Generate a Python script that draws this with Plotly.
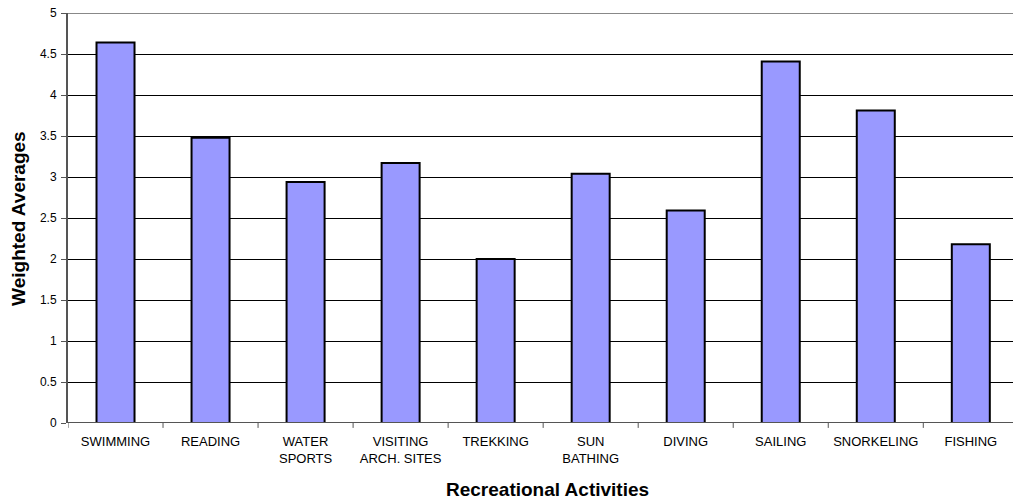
import plotly.graph_objects as go

# Recreational activities and their weighted average ratings
activities = ["SWIMMING", "READING", "WATER<br>SPORTS", "VISITING<br>ARCH. SITES", "TREKKING",
              "SUN<br>BATHING", "DIVING", "SAILING", "SNORKELING", "FISHING"]
weighted_averages = [4.64, 3.48, 2.94, 3.17, 2.00, 3.04, 2.59, 4.41, 3.81, 2.18]
y_ticks = [0, 0.5, 1, 1.5, 2, 2.5, 3, 3.5, 4, 4.5, 5]
y_tick_text = ["0", "0.5", "1", "1.5", "2", "2.5", "3", "3.5", "4", "4.5", "5"]

font_family = "Liberation Sans, Arial, sans-serif"

fig = go.Figure()
fig.add_trace(go.Bar(
    x=list(range(len(activities))),
    y=weighted_averages,
    width=0.4,
    marker=dict(color="#9999FF", line=dict(color="#000000", width=2)),
    hoverinfo="y",
))

fig.update_layout(
    width=1013, height=503,
    margin=dict(l=68, r=0, t=13, b=80),
    paper_bgcolor="white", plot_bgcolor="white",
    showlegend=False,
    font=dict(family=font_family, color="#000000", size=12),
    xaxis=dict(
        range=[-0.5, 9.444],
        tickmode="array",
        tickvals=list(range(len(activities))),
        ticktext=activities,
        tickfont=dict(size=13),
        showgrid=False,
        zeroline=False,
        showline=False,
        ticks="",
        ticklabelstandoff=9,
    ),
    yaxis=dict(
        range=[0, 5],
        tickmode="array",
        tickvals=y_ticks,
        ticktext=y_tick_text,
        tickfont=dict(size=12),
        showgrid=True,
        gridcolor="#000000",
        gridwidth=1,
        zeroline=False,
        showline=True,
        linecolor="#555555",
        linewidth=2,
        ticks="outside",
        ticklen=5,
        tickcolor="#555555",
        ticklabelstandoff=2,
    ),
    annotations=[
        dict(text="<b>Recreational Activities</b>", xref="x", yref="paper",
             x=4.55, y=-0.163, showarrow=False, font=dict(size=19),
             xanchor="center", yanchor="middle"),
        dict(text="<b>Weighted Averages</b>", xref="paper", yref="paper",
             x=-0.053, y=0.5, showarrow=False, font=dict(size=19),
             textangle=-90, xanchor="center", yanchor="middle"),
    ],
)

# Gray frame line along the top of the plot area
fig.add_shape(type="line", xref="paper", yref="y", x0=0, x1=1, y0=5, y1=5,
              line=dict(color="#888888", width=2), layer="above")

# Baseline with category boundary ticks
fig.add_shape(type="line", xref="paper", yref="y", x0=0, x1=1, y0=0, y1=0,
              line=dict(color="#555555", width=2), layer="above")
for b in range(len(activities)):
    fig.add_shape(type="line", xref="x", yref="paper", x0=b - 0.5, x1=b - 0.5,
                  y0=0, y1=-0.012, line=dict(color="#555555", width=1))

fig.write_html("out.html")
